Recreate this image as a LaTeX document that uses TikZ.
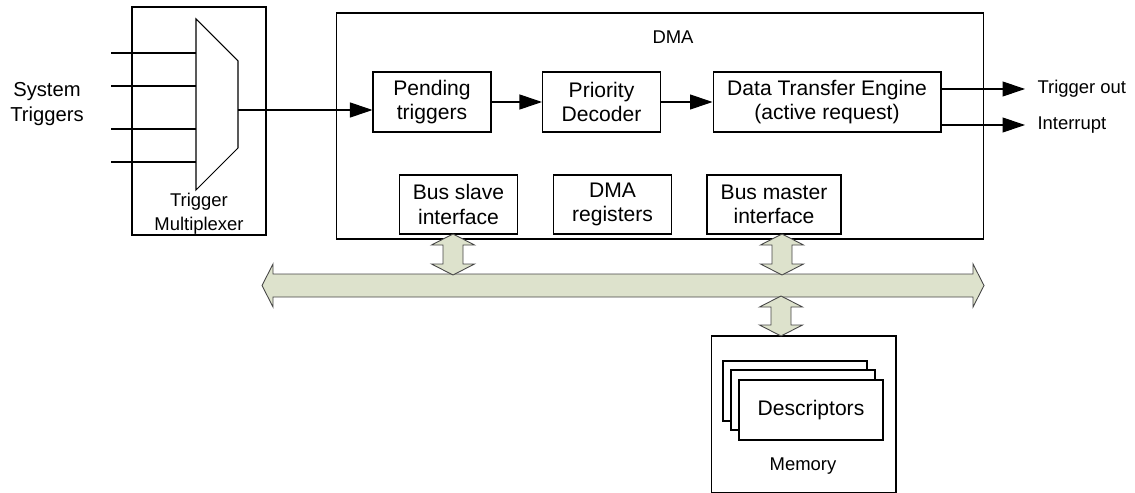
\documentclass[tikz,border=0pt]{standalone}
\usepackage{fontspec}
\setmainfont{Liberation Sans}
\usetikzlibrary{arrows.meta}
\definecolor{busfill}{RGB}{221,226,204}
\definecolor{busline}{RGB}{70,70,70}

% double headed bus link, x, top, bottom
\newcommand{\vlink}[3]{%
  \draw[link] (#1,#2) -- ++(21.5,11) -- ++(-11.5,0) -- (#1+10,#3-11)
    -- ++(11.5,0) -- (#1,#3) -- ++(-21.5,-11) -- ++(11.5,0)
    -- (#1-10,#2+11) -- ++(-11.5,0) -- cycle;}

\begin{document}
\begin{tikzpicture}[x=0.02cm, y=-0.02cm, line width=0.6pt,
    block/.style={
        draw,
        minimum width=2.36cm,
        minimum height=1.2cm,
        inner sep=0pt,
        align=center,
        font=\fontsize{12}{13.8}\selectfont
    },
    frame/.style={
        draw,
        inner sep=0pt
    },
    lbl/.style={
        inner sep=0pt,
        align=center,
        font=\fontsize{10.5}{13.6}\selectfont
    },
    sig/.style={-{Triangle[length=0.45cm, width=0.3cm]}},
    link/.style={draw=busline, fill=busfill, line width=0.5pt}
]
\useasboundingbox (0,0) rectangle (1135,493);

% --- Frames ---
\node[frame, minimum width=2.68cm, minimum height=4.56cm] (muxbox) at (199,121) {};
\node[frame, minimum width=12.96cm, minimum height=4.52cm] (dma) at (660,126) {};
\node[frame, minimum width=3.7cm, minimum height=3.14cm] (mem) at (803.5,414.5) {};

% --- Labels ---
\node[align=center, inner sep=0pt, font=\fontsize{11.5}{14.2}\selectfont] (systrig) at (47,104) {System\\Triggers};
\node[lbl] (muxlbl) at (199,214) {Trigger\\Multiplexer};
\node[lbl] (dmalbl) at (673,37) {DMA};
\node[lbl] (memlbl) at (803,466) {Memory};

% --- Trigger multiplexer ---
\coordinate (mtl) at (196,19);
\coordinate (mtr) at (238,61);
\coordinate (mbr) at (238,148);
\coordinate (mbl) at (196,190);
\draw (mtl) -- (mtr) -- (mbr) -- (mbl) -- cycle;
\foreach \y [count=\i] in {53,86,129,162} {
    \coordinate (in\i) at (111,\y);
    \draw (in\i) -- (in\i -| mtl);
}
\coordinate (muxout) at (238,110);

% --- DMA blocks ---
\node[block] (pend) at (432,102) {Pending\\triggers};
\node[block] (prio) at (601.5,102) {Priority\\Decoder};
\node[block, minimum width=4.56cm] (dte) at (827,102) {Data Transfer Engine\\(active request)};
\node[block, minimum height=1.18cm] (slave) at (458.5,204.5) {Bus slave\\interface};
\node[block, minimum height=1.18cm] (regs) at (612.5,204.5) {DMA\\registers};
\node[block, minimum width=2.68cm, minimum height=1.18cm] (master) at (774,204.5) {Bus master\\interface};

% --- Descriptors ---
\node[block, fill=white, minimum width=2.88cm] (desc3) at (795,391) {};
\node[block, fill=white, minimum width=2.88cm] (desc2) at (803,400) {};
\node[block, fill=white, minimum width=2.88cm] (desc1) at (811,410) {Descriptors};

% --- Signals ---
\draw[sig] (muxout) -- (muxout -| pend.west);
\draw[sig] (pend) -- (prio);
\draw[sig] (prio) -- (dte);
\node[lbl, anchor=west] (tout) at (1037,89) {Trigger out};
\node[lbl, anchor=west] (irq) at (1037,125) {Interrupt};
\draw[sig] (dte.east |- tout.west) -- ([xshift=-0.24cm]tout.west);
\draw[sig] (dte.east |- irq.west) -- ([xshift=-0.24cm]irq.west);

% --- Bus ---
\draw[link] (262,285.5) -- (273,264) -- (273,274) -- (973,274) -- (973,264)
    -- (984,285.5) -- (973,307) -- (973,297) -- (273,297) -- (273,307) -- cycle;
\vlink{453}{234}{275}
\vlink{782}{234}{275}
\vlink{781}{296}{336}

\end{tikzpicture}
\end{document}
